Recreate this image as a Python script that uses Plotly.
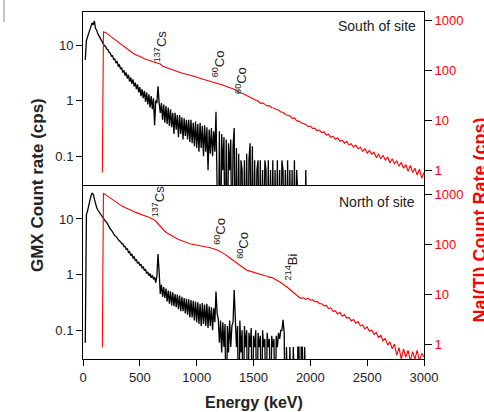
import numpy as np
import plotly.graph_objects as go

# ---------------- data ----------------
gmx_energy = list(range(20, 1971, 10))  # keV
gmx_south = [
    5.4, 12, 14, 16, 19, 22, 25, 23, 27, 20,
    18.5, 16, 14.5, 13.2, 12.5, 11.2, 10.4, 9.7, 9.3, 8.4,
    8.2, 7.3, 7.2, 6.3, 6.4, 5.5, 5.6, 4.8, 5.0, 4.2,
    4.4, 3.7, 3.9, 3.2, 3.5, 2.8, 3.2, 2.5, 2.9, 2.2,
    2.6, 2.0, 2.4, 1.8, 2.1, 1.6, 1.95, 1.4, 1.75, 1.2,
    1.6, 1.1, 1.5, 0.95, 1.4, 0.85, 1.3, 0.75, 1.2, 0.7,
    1.1, 0.36, 1.0, 0.9, 1.8, 0.9, 0.6, 0.9, 0.45, 0.85,
    0.4, 0.8, 0.38, 0.75, 0.35, 0.7, 0.33, 0.6, 0.25, 0.6,
    0.3, 0.55, 0.22, 0.55, 0.25, 0.5, 0.2, 0.48, 0.23, 0.45,
    0.2, 0.45, 0.18, 0.45, 0.17, 0.4, 0.15, 0.42, 0.14, 0.38,
    0.12, 0.4, 0.14, 0.35, 0.1, 0.36, 0.12, 0.33, 0.056, 0.3,
    0.11, 0.32, 0.1, 0.28, 0.12, 0.63, 0.15, 0.001, 0.28, 0.001,
    0.25, 0.056, 0.22, 0.001, 0.2, 0.001, 0.17, 0.056, 0.2, 0.001,
    0.15, 0.32, 0.001, 0.14, 0.001, 0.11, 0.001, 0.084, 0.056, 0.001,
    0.084, 0.001, 0.11, 0.001, 0.084, 0.17, 0.001, 0.15, 0.001, 0.084,
    0.001, 0.056, 0.084, 0.001, 0.084, 0.001, 0.056, 0.001, 0.084, 0.056,
    0.001, 0.084, 0.001, 0.056, 0.001, 0.084, 0.001, 0.056, 0.001, 0.084,
    0.001, 0.056, 0.001, 0.084, 0.056, 0.001, 0.056, 0.001, 0.084, 0.001,
    0.056, 0.001, 0.056, 0.001, 0.084, 0.001, 0.056, 0.001, 0.001, 0.001,
    0.001, 0.001, 0.001, 0.001, 0.056, 0.001,
]
gmx_north = [
    0.06, 12, 14, 18, 22, 26, 29, 28, 23, 18,
    16, 14.5, 13.5, 12.5, 11.8, 11.2, 10.5, 9.8, 9.0, 8.6,
    7.8, 7.3, 6.6, 6.3, 5.7, 5.5, 5.0, 4.9, 4.5, 4.4,
    4.0, 3.95, 3.6, 3.6, 3.2, 3.2, 2.85, 2.9, 2.5, 2.6,
    2.2, 2.35, 2.0, 2.1, 1.8, 1.85, 1.6, 1.7, 1.45, 1.55,
    1.3, 1.4, 1.18, 1.25, 1.05, 1.12, 0.95, 1.05, 0.88, 0.98,
    0.82, 0.9, 0.72, 0.95, 2.35, 1.1, 0.45, 0.66, 0.4, 0.6,
    0.38, 0.56, 0.33, 0.52, 0.3, 0.5, 0.28, 0.48, 0.27, 0.45,
    0.26, 0.44, 0.24, 0.42, 0.22, 0.4, 0.22, 0.38, 0.2, 0.37,
    0.19, 0.36, 0.17, 0.35, 0.17, 0.34, 0.15, 0.33, 0.14, 0.32,
    0.13, 0.3, 0.12, 0.31, 0.13, 0.29, 0.12, 0.3, 0.11, 0.27,
    0.12, 0.26, 0.1, 0.25, 0.14, 0.5, 0.2, 0.16, 0.06, 0.15,
    0.04, 0.14, 0.05, 0.13, 0.001, 0.12, 0.04, 0.15, 0.05, 0.12,
    0.14, 0.53, 0.16, 0.05, 0.12, 0.001, 0.15, 0.04, 0.1, 0.001,
    0.12, 0.05, 0.1, 0.001, 0.09, 0.05, 0.11, 0.001, 0.08, 0.05,
    0.1, 0.001, 0.09, 0.05, 0.08, 0.001, 0.1, 0.05, 0.07, 0.001,
    0.09, 0.05, 0.07, 0.001, 0.08, 0.05, 0.07, 0.001, 0.08, 0.05,
    0.09, 0.07, 0.1, 0.1, 0.155, 0.09, 0.001, 0.05, 0.001, 0.001,
    0.05, 0.001, 0.001, 0.05, 0.001, 0.001, 0.001, 0.05, 0.05, 0.001,
    0.05, 0.05, 0.001, 0.05, 0.001, 0.001,
]

nai_energy = [170] + list(range(180, 3001, 20))  # keV
nai_south = [
    0.9,
    600, 575, 530, 490, 455, 420, 385, 355, 325, 300,
    275, 258, 240, 222, 210, 198, 190, 182, 173, 168,
    160, 155, 148, 142, 140, 135, 122, 117, 113, 109,
    104, 101, 97, 94, 90, 87, 85, 83, 80, 78,
    76, 74, 71, 69, 67, 65, 63, 62, 60, 58,
    57, 55, 52, 50, 48, 46, 45, 44, 41, 39,
    36, 35, 33, 31, 29.5, 28, 27, 25.5, 24.5, 22,
    22.5, 21, 19.5, 19.8, 18, 17.8, 16.5, 16.2, 14.8, 14.6,
    13.2, 12.7, 12.3, 11, 11.2, 9.8, 9.7, 9.0, 8.6, 8.3,
    7.5, 7.7, 6.9, 7.0, 6.2, 6.4, 5.7, 5.9, 5.1, 5.3,
    4.6, 4.8, 4.2, 4.5, 3.8, 4.0, 3.5, 3.8, 3.2, 3.4,
    2.9, 3.2, 2.7, 2.9, 2.4, 2.7, 2.2, 2.5, 2.1, 2.3,
    1.8, 2.1, 1.7, 2.0, 1.6, 1.85, 1.4, 1.7, 1.35, 1.55,
    1.2, 1.45, 1.1, 1.3, 0.95, 1.25, 0.9, 1.1, 0.8, 1.05,
    0.7, 0.9,
]
nai_north = [
    0.85,
    1040, 960, 890, 820, 760, 705, 655, 620, 580, 550,
    520, 495, 470, 445, 430, 415, 402, 390, 372, 355,
    342, 328, 310, 285, 255, 225, 196, 180, 166, 155,
    145, 136, 130, 123, 118, 113, 108, 105, 101, 99,
    96, 95, 93, 91, 90, 88, 86, 84, 82, 79,
    76, 72, 68, 64, 60, 55, 51, 47, 43, 40,
    37, 34, 32, 30, 29, 28, 27, 26.3, 25.5, 24.5,
    24.3, 23.2, 23, 21.5, 21.5, 20, 19.3, 18, 17, 16,
    14.5, 13.5, 12.3, 11, 10.2, 9.2, 8.6, 8.2, 8.4, 7.8,
    8.2, 7.5, 7.7, 7.0, 7.1, 6.4, 6.4, 5.8, 5.9, 5.1,
    5.3, 4.5, 4.6, 4.0, 4.3, 3.6, 3.9, 3.3, 3.4, 2.9,
    3.1, 2.6, 2.8, 2.3, 2.4, 2.0, 2.2, 1.8, 1.9, 1.55,
    1.7, 1.35, 1.5, 1.15, 1.3, 0.95, 1.1, 0.8, 1.0, 0.6,
    0.85, 0.5, 0.8, 0.55, 0.75, 0.45, 0.7, 0.5, 0.75, 0.45,
    0.65, 0.55,
]

x_ticks = [0, 500, 1000, 1500, 2000, 2500, 3000]
left_ticks = [0.1, 1, 10]
left_ticktext = ["0.1", "1", "10"]
right_ticks = [1, 10, 100, 1000]
right_ticktext = ["1", "10", "100", "1000"]

# peak labels: (text, energy, paper-y)
south_labels = [("<sup>137</sup>Cs", 684, 0.9006),
                ("<sup>60</sup>Co", 1195, 0.8516),
                ("<sup>60</sup>Co", 1389, 0.804)]
north_labels = [("<sup>137</sup>Cs", 667, 0.4539),
                ("<sup>60</sup>Co", 1204, 0.3689),
                ("<sup>60</sup>Co", 1406, 0.3285),
                ("<sup>214</sup>Bi", 1838, 0.2666)]

FONT = "Liberation Sans, Arial, Helvetica, sans-serif"
RED = "#ff0000"

fig = go.Figure()
# bottom panel (North)
fig.add_trace(go.Scatter(x=nai_energy, y=nai_north, mode="lines",
                         line=dict(color=RED, width=1.1), xaxis="x", yaxis="y2"))
fig.add_trace(go.Scatter(x=gmx_energy, y=gmx_north, mode="lines",
                         line=dict(color="black", width=1.3), xaxis="x", yaxis="y"))
# top panel (South)
fig.add_trace(go.Scatter(x=nai_energy, y=nai_south, mode="lines",
                         line=dict(color=RED, width=1.1), xaxis="x2", yaxis="y4"))
fig.add_trace(go.Scatter(x=gmx_energy, y=gmx_south, mode="lines",
                         line=dict(color="black", width=1.3), xaxis="x2", yaxis="y3"))

split = 0.5014
axline = dict(showline=True, linecolor="black", linewidth=1, showgrid=False, zeroline=False)
tickf = dict(family=FONT, size=13, color="#222")

fig.update_layout(
    width=484, height=412,
    margin=dict(l=83, r=60, t=12, b=53),
    paper_bgcolor="white", plot_bgcolor="white",
    showlegend=False,
    font=dict(family=FONT),
    xaxis=dict(domain=[0, 1], anchor="y", range=[0, 3000], tickvals=x_ticks,
               ticks="outside", ticklen=6, tickcolor="black", mirror=False,
               tickfont=tickf, **axline),
    xaxis2=dict(domain=[0, 1], anchor="y3", range=[0, 3000], matches="x",
                showticklabels=False, ticks="", mirror=True, **axline),
    yaxis=dict(domain=[0, split], anchor="x", type="log", range=[-1.515, 1.61],
               tickvals=left_ticks, ticktext=left_ticktext, ticks="outside",
               ticklen=6, tickcolor="black", tickfont=tickf, **axline),
    yaxis2=dict(overlaying="y", anchor="x", side="right", type="log",
                range=[-0.3, 3.18], tickvals=right_ticks, ticktext=right_ticktext,
                ticks="outside", ticklen=7, tickcolor="black",
                tickfont=dict(family=FONT, size=13, color=RED), **axline),
    yaxis3=dict(domain=[split, 1], anchor="x2", type="log", range=[-1.52, 1.594],
                tickvals=left_ticks, ticktext=left_ticktext, ticks="outside",
                ticklen=6, tickcolor="black", tickfont=tickf, **axline),
    yaxis4=dict(overlaying="y3", anchor="x2", side="right", type="log",
                range=[-0.295, 3.174], tickvals=right_ticks, ticktext=right_ticktext,
                ticks="outside", ticklen=7, tickcolor="black",
                tickfont=dict(family=FONT, size=13, color=RED), **axline),
)

ann = []
for txt, e, yp in south_labels + north_labels:
    ann.append(dict(text=txt, x=e, xref="x", y=yp, yref="paper", showarrow=False,
                    textangle=-90, xanchor="center", yanchor="middle",
                    font=dict(family=FONT, size=13, color="#222")))
ann.append(dict(text="South of site", x=0.982, xref="paper", y=0.9597, yref="paper",
                showarrow=False, xanchor="right", yanchor="middle",
                font=dict(family=FONT, size=14, color="#222")))
ann.append(dict(text="North of site", x=0.979, xref="paper", y=0.4533, yref="paper",
                showarrow=False, xanchor="right", yanchor="middle",
                font=dict(family=FONT, size=14, color="#222")))
ann.append(dict(text="<b>Energy (keV)</b>", x=0.501, xref="paper", y=-0.1268, yref="paper",
                showarrow=False, xanchor="center", yanchor="middle",
                font=dict(family=FONT, size=16, color="#222")))
ann.append(dict(text="<b>GMX Count rate (cps)</b>", x=-0.1349, xref="paper", y=0.5014,
                yref="paper", showarrow=False, textangle=-90, xanchor="center",
                yanchor="middle", font=dict(family=FONT, size=17, color="#222")))
ann.append(dict(text="<b>NaI(Tl) Count Rate (cps)</b>", x=1.165, xref="paper", y=0.40,
                yref="paper", showarrow=False, textangle=-90, xanchor="center",
                yanchor="middle", font=dict(family=FONT, size=18, color=RED)))
fig.update_layout(annotations=ann)

fig.add_shape(type="line", xref="paper", yref="paper", x0=-0.2317, x1=-0.2317,
              y0=1.0346, y1=0.971, line=dict(color="#888", width=1))

fig.write_html("out.html")
